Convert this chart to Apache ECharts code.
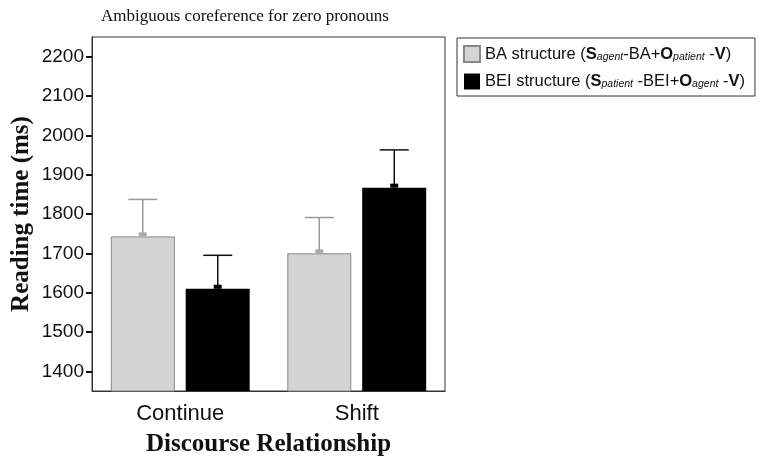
<!DOCTYPE html>
<html>
<head>
<meta charset="utf-8">
<script src="https://cdn.jsdelivr.net/npm/echarts@6/dist/echarts.min.js"></script>
<style>html,body{margin:0;padding:0;background:#fff}#c{width:761px;height:462px}</style>
</head>
<body>
<div id="c"></div>
<script>
var categories = ['Continue', 'Shift'];
var seriesNames = ['BA', 'BEI'];
var baMeans = [1743, 1700];
var baUpper = [1837, 1791];
var beiMeans = [1610, 1867];
var beiUpper = [1695, 1963];
var yTicks = [1400, 1500, 1600, 1700, 1800, 1900, 2000, 2100, 2200];

var chart = echarts.init(document.getElementById('c'), null, {renderer: 'canvas'});

var legendRich = {
  n: {fontFamily: 'Liberation Sans', fontSize: 16.5, color: '#111'},
  b: {fontFamily: 'Liberation Sans', fontSize: 16.5, fontWeight: 'bold', color: '#111'},
  s: {fontFamily: 'Liberation Sans', fontSize: 10.5, fontStyle: 'italic', color: '#111', padding: [6, 0, 0, 0]}
};

function errRender(offset, lineColor, markColor) {
  return function (params, api) {
    var c = api.value(0);
    var top = api.coord([c, api.value(1)]);
    var up = api.coord([c, api.value(2)]);
    var x = top[0] + offset;
    var half = 14.5;
    return {
      type: 'group',
      children: [
        {type: 'line', shape: {x1: x, y1: top[1], x2: x, y2: up[1]}, style: {stroke: lineColor, lineWidth: 1.5}},
        {type: 'line', shape: {x1: x - half, y1: up[1], x2: x + half, y2: up[1]}, style: {stroke: lineColor, lineWidth: 1.5}},
        {type: 'rect', shape: {x: x - 4, y: top[1] - 4, width: 8, height: 4}, style: {fill: markColor}}
      ]
    };
  };
}

var option = {
  backgroundColor: '#fff',
  animation: false,
  title: {
    text: 'Ambiguous coreference for zero pronouns',
    left: 96, top: 3,
    textStyle: {fontFamily: 'Liberation Serif', fontSize: 17, fontWeight: 'normal', color: '#111'}
  },
  legend: {
    orient: 'vertical',
    left: 457, top: 38,
    padding: [7, 10, 6, 6],
    itemGap: 10,
    itemWidth: 16, itemHeight: 16,
    icon: 'rect',
    borderColor: '#333', borderWidth: 1,
    data: seriesNames,
    formatter: function (name) {
      if (name === 'BA') {
        return '{n|BA structure (}{b|S}{s|agent}{n|-BA+}{b|O}{s|patient}{n| -}{b|V}{n|)}';
      }
      return '{n|BEI structure (}{b|S}{s|patient}{n| -BEI+}{b|O}{s|agent}{n| -}{b|V}{n|)}';
    },
    textStyle: {rich: legendRich, padding: [0, 0, 0, 0]}
  },
  grid: {
    left: 92, right: 316, top: 37, bottom: 68,
    show: true, borderColor: '#333', borderWidth: 1, backgroundColor: 'transparent'
  },
  xAxis: {
    type: 'category',
    data: categories,
    name: 'Discourse Relationship',
    nameLocation: 'middle',
    nameGap: 41,
    nameTextStyle: {fontFamily: 'Liberation Serif', fontSize: 25, fontWeight: 'bold', color: '#111'},
    axisLine: {lineStyle: {color: '#333', width: 1}},
    axisTick: {alignWithLabel: true, length: 7, lineStyle: {color: '#111', width: 2}},
    axisLabel: {fontFamily: 'Liberation Sans', fontSize: 22, color: '#111', margin: 12}
  },
  yAxis: {
    type: 'value',
    min: 1350, max: 2250,
    name: 'Reading time (ms)',
    nameLocation: 'middle',
    nameGap: 58,
    nameTextStyle: {fontFamily: 'Liberation Serif', fontSize: 25, fontWeight: 'bold', color: '#111'},
    splitLine: {show: false},
    axisLine: {show: true, lineStyle: {color: '#333', width: 1}},
    axisTick: {show: true, length: 6, customValues: yTicks, lineStyle: {color: '#111', width: 2}},
    axisLabel: {
      fontFamily: 'Liberation Sans', fontSize: 19, color: '#111', margin: 8, customValues: yTicks,
      formatter: function (v) { return String(v); }
    }
  },
  series: [
    {
      name: 'BA', type: 'bar', data: baMeans,
      barWidth: 64, barGap: '17%',
      itemStyle: {color: '#d4d4d4', borderColor: '#888', borderWidth: 1}
    },
    {
      name: 'BEI', type: 'bar', data: beiMeans,
      barWidth: 64, barGap: '17%',
      itemStyle: {color: '#000'}
    },
    {
      type: 'custom', silent: true, z: 5,
      renderItem: errRender(-37.5, '#999', '#aaa'),
      data: categories.map(function (c, i) { return [i, baMeans[i], baUpper[i]]; })
    },
    {
      type: 'custom', silent: true, z: 5,
      renderItem: errRender(37.5, '#111', '#000'),
      data: categories.map(function (c, i) { return [i, beiMeans[i], beiUpper[i]]; })
    }
  ]
};
chart.setOption(option);
</script>
</body>
</html>
